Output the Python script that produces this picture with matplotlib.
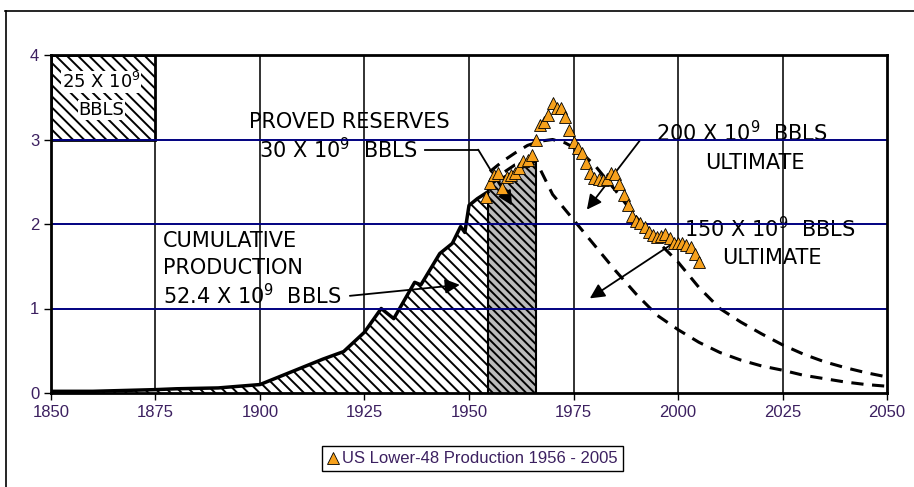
import matplotlib

matplotlib.use("Agg")
import matplotlib.pyplot as plt
from matplotlib.lines import Line2D
from matplotlib.patches import Rectangle

# production data overlaid on the old chart (10^9 bbls / yr)
prod_years = list(range(1954, 2006))
prod_vals = [
    2.32, 2.48, 2.58, 2.60, 2.43, 2.56, 2.58, 2.60, 2.66, 2.74,
    2.76, 2.82, 2.99, 3.17, 3.21, 3.29, 3.43, 3.37, 3.37, 3.27,
    3.11, 2.97, 2.90, 2.84, 2.72, 2.60, 2.54, 2.53, 2.52, 2.53,
    2.60, 2.59, 2.47, 2.34, 2.22, 2.09, 2.03, 2.01, 1.97, 1.91,
    1.87, 1.85, 1.86, 1.88, 1.84, 1.78, 1.77, 1.77, 1.75, 1.73,
    1.65, 1.55,
]

# cumulative production outline (hatched)
cum_years = [1850, 1860, 1875, 1880, 1890, 1900, 1905, 1910, 1915, 1920,
             1925, 1929, 1932, 1937, 1938.5, 1943, 1946, 1948, 1949, 1950,
             1952, 1954.5]
cum_vals = [0.02, 0.02, 0.04, 0.05, 0.06, 0.10, 0.20, 0.30, 0.40, 0.49,
            0.72, 1.00, 0.88, 1.31, 1.28, 1.65, 1.77, 1.97, 1.90, 2.22,
            2.30, 2.38]

# proved reserves block
res_years = [1954.5, 1957.5, 1960.5, 1963.5, 1966]
res_vals = [2.45, 2.54, 2.61, 2.68, 2.74]

# dashed hubbert curves
hi_years = [1955, 1958, 1961, 1964, 1967, 1970, 1973, 1976, 1980, 1985,
            1990, 1995, 2000, 2005, 2010, 2015, 2020, 2025, 2030, 2035,
            2040, 2045, 2050]
hi_vals = [2.62, 2.74, 2.84, 2.93, 2.98, 3.00, 2.96, 2.88, 2.70, 2.40,
           2.08, 1.80, 1.55, 1.25, 1.00, 0.84, 0.70, 0.57, 0.46, 0.37,
           0.30, 0.24, 0.19]
lo_years = [1955, 1958, 1961, 1964, 1967, 1970, 1975, 1980, 1985, 1990,
            1995, 2000, 2005, 2010, 2015, 2020, 2025, 2030, 2035, 2040,
            2045, 2050]
lo_vals = [2.45, 2.60, 2.70, 2.74, 2.65, 2.35, 2.05, 1.75, 1.45, 1.17,
           0.92, 0.75, 0.60, 0.48, 0.39, 0.32, 0.27, 0.21, 0.17, 0.13,
           0.10, 0.08]

x_ticks = [1850, 1875, 1900, 1925, 1950, 1975, 2000, 2025, 2050]
y_ticks = [0, 1, 2, 3, 4]

label_color = "#3c2060"
orange = "#f7a11c"
scan_font = "DejaVu Sans"

plt.rcParams["hatch.linewidth"] = 1.4

fig = plt.figure(figsize=(9.14, 4.87), dpi=100)
ax = fig.add_axes([51 / 914, 1 - 393 / 487, 836 / 914, 338 / 487])
ax.set_xlim(1850, 2050)
ax.set_ylim(0, 4)

# scan grid
for yr in x_ticks[1:-1]:
    ax.axvline(yr, color="#222222", lw=1.3, zorder=1)
for v in y_ticks[1:-1]:
    ax.axhline(v, color="#000080", lw=1.4, zorder=4)

# 25 x 10^9 box
ax.add_patch(Rectangle((1850, 3), 25, 1, facecolor="white", edgecolor="black",
                       hatch="\\\\\\", lw=2, zorder=2))
ax.text(1862, 3.68, r"25 X 10$^{9}$", ha="center", va="center", fontsize=13,
        family=scan_font, zorder=3,
        bbox=dict(facecolor="white", edgecolor="none", pad=0.5))
ax.text(1862, 3.35, "BBLS", ha="center", va="center", fontsize=13,
        family=scan_font, zorder=3,
        bbox=dict(facecolor="white", edgecolor="none", pad=0.5))

ax.fill_between(cum_years, 0, cum_vals, facecolor="white", edgecolor="black",
                hatch="\\\\\\", lw=0, zorder=2)
ax.plot(cum_years, cum_vals, color="black", lw=2.5, zorder=3)
ax.fill_between(res_years, 0, res_vals, facecolor="#bbbbbb", edgecolor="black",
                hatch="\\\\\\\\", lw=0, zorder=2)
ax.plot(res_years, res_vals, color="black", lw=1.5, zorder=3)
ax.plot([1954.5, 1954.5], [0, res_vals[0]], color="black", lw=1.5, zorder=3)
ax.plot([1966, 1966], [0, res_vals[-1]], color="black", lw=1.5, zorder=3)

ax.plot(hi_years, hi_vals, color="black", lw=2.2, dashes=(4, 2.8), zorder=3)
ax.plot(lo_years, lo_vals, color="black", lw=2.2, dashes=(4, 2.8), zorder=3)

# labels from the old chart
kw = dict(fontsize=15, family=scan_font, zorder=3)
ax.text(1921.3, 3.21, "PROVED RESERVES", ha="center", va="center", **kw)
ax.text(1918.7, 2.88, r"30 X 10$^{9}$  BBLS", ha="center", va="center", **kw)
ax.plot([1939.5, 1952.2], [2.88, 2.88], color="black", lw=1.3, zorder=3)
ax.annotate("", xy=(1960.3, 2.22), xytext=(1952.2, 2.88),
            arrowprops=dict(arrowstyle="-|>", color="black", lw=1.3,
                            mutation_scale=22, shrinkA=0, shrinkB=0), zorder=3)

ax.text(2015.3, 3.08, r"200 X 10$^{9}$  BBLS", ha="center", va="center", **kw)
ax.text(2018.4, 2.72, "ULTIMATE", ha="center", va="center", **kw)
ax.annotate("", xy=(1978.2, 2.17), xytext=(1990.9, 2.99),
            arrowprops=dict(arrowstyle="-|>", color="black", lw=1.3,
                            mutation_scale=22, shrinkA=0, shrinkB=0), zorder=3)

ax.text(2022.0, 1.95, r"150 X 10$^{9}$  BBLS", ha="center", va="center", **kw)
ax.text(2022.5, 1.60, "ULTIMATE", ha="center", va="center", **kw)
ax.annotate("", xy=(1978.9, 1.12), xytext=(2000.0, 1.81),
            arrowprops=dict(arrowstyle="-|>", color="black", lw=1.3,
                            mutation_scale=22, shrinkA=0, shrinkB=0), zorder=3)

ax.text(1876.8, 1.80, "CUMULATIVE", ha="left", va="center", **kw)
ax.text(1876.8, 1.48, "PRODUCTION", ha="left", va="center", **kw)
ax.text(1876.8, 1.15, r"52.4 X 10$^{9}$  BBLS", ha="left", va="center", **kw)
ax.annotate("", xy=(1947.8, 1.28), xytext=(1921.5, 1.15),
            arrowprops=dict(arrowstyle="-|>", color="black", lw=1.3,
                            mutation_scale=22, shrinkA=0, shrinkB=0), zorder=3)

ax.plot(prod_years, prod_vals, linestyle="none", marker="^", markersize=8,
        markerfacecolor=orange, markeredgecolor="black", markeredgewidth=0.6,
        zorder=6)

for side in ax.spines.values():
    side.set_color("black")
    side.set_linewidth(2)
    side.set_zorder(5)
ax.set_xticks(x_ticks)
ax.set_yticks(y_ticks)
ax.tick_params(direction="out", length=5, width=1, color="black",
               labelsize=12, labelcolor=label_color)
for lab in ax.get_xticklabels() + ax.get_yticklabels():
    lab.set_family("Liberation Sans")

handle = Line2D([], [], linestyle="none", marker="^", markersize=8,
                markerfacecolor=orange, markeredgecolor="black",
                markeredgewidth=0.6)
leg = fig.legend([handle], ["US Lower-48 Production 1956 - 2005"],
                 loc="center", bbox_to_anchor=(0.517, 0.0575), fancybox=False,
                 edgecolor="black", framealpha=1, handlelength=0.7,
                 handletextpad=0.2, borderpad=0.3, borderaxespad=0,
                 prop={"family": "Liberation Sans", "size": 12})
leg.get_frame().set_linewidth(1)
for t in leg.get_texts():
    t.set_color(label_color)

# outer frame of the picture
fig.add_artist(Line2D([5 / 914, 1], [1 - 11 / 487, 1 - 11 / 487],
                      transform=fig.transFigure, color="black", lw=1.2))
fig.add_artist(Line2D([6 / 914, 6 / 914], [0, 1 - 11 / 487],
                      transform=fig.transFigure, color="black", lw=1.2))

fig.savefig("out.png", dpi=100)
plt.close(fig)
